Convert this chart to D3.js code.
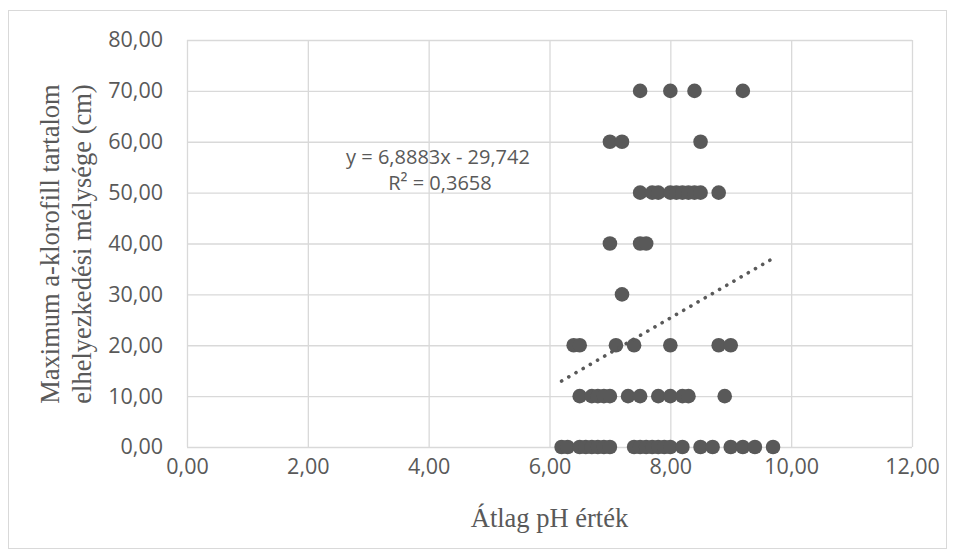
<!DOCTYPE html>
<html>
<head>
<meta charset="utf-8">
<script src="https://cdn.jsdelivr.net/npm/d3@7"></script>
<style>
    body { margin: 0; background: #fff; }
    .tick text { fill: #595959; font-family: "Open Sans", sans-serif; font-size: 21.5px; }
    .grid line { stroke: #d9d9d9; stroke-width: 1.3; }
    .grid .domain { display: none; }
    .title { fill: #595959; font-family: "Liberation Serif", serif; font-size: 26.5px; }
    .eq { fill: #595959; font-family: "Open Sans", sans-serif; font-size: 20px; }
</style>
</head>
<body>
<div id="chart"></div>
<script>
// data: pH (x) and depth in cm (y)
const phValues = [
    6.2, 6.3, 6.5, 6.6, 6.7, 6.8, 6.9, 7.0, 7.4, 7.5, 7.6, 7.7, 7.8, 7.9, 8.0, 8.2, 8.5, 8.7, 9.0, 9.2, 9.4, 9.7,
    6.5, 6.7, 6.8, 6.9, 7.0, 7.3, 7.5, 7.8, 8.0, 8.2, 8.3, 8.9,
    6.4, 6.5, 7.1, 7.4, 8.0, 8.8, 9.0,
    7.2,
    7.0, 7.5, 7.6,
    7.5, 7.7, 7.8, 8.0, 8.1, 8.2, 8.3, 8.4, 8.5, 8.8,
    7.0, 7.2, 8.5,
    7.5, 8.0, 8.4, 9.2
];
const depthValues = [
    0, 0, 0, 0, 0, 0, 0, 0, 0, 0, 0, 0, 0, 0, 0, 0, 0, 0, 0, 0, 0, 0,
    10, 10, 10, 10, 10, 10, 10, 10, 10, 10, 10, 10,
    20, 20, 20, 20, 20, 20, 20,
    30,
    40, 40, 40,
    50, 50, 50, 50, 50, 50, 50, 50, 50, 50,
    60, 60, 60,
    70, 70, 70, 70
];
const xTicks = [0, 2, 4, 6, 8, 10, 12];
const yTicks = [0, 10, 20, 30, 40, 50, 60, 70, 80];
const trendSlope = 6.8883;
const trendIntercept = -29.742;
const equationText = "y = 6,8883x - 29,742";
const r2Text = "R² = 0,3658";
const xTitle = "Átlag pH érték";
const yTitleLines = ["Maximum a-klorofill tartalom", "elhelyezkedési mélysége (cm)"];

const width = 954;
const height = 557;
const plot = { left: 187, right: 912, top: 40, bottom: 447 };

const locale = d3.formatLocale({ decimal: ",", thousands: " ", grouping: [3], currency: ["", ""] });
const fmt = locale.format(".2f");

const svg = d3.select("#chart")
    .append("svg")
    .attr("width", width)
    .attr("height", height);

// outer frame
svg.append("rect")
    .attr("x", 8.5).attr("y", 10.5)
    .attr("width", 938).attr("height", 538)
    .attr("fill", "none")
    .attr("stroke", "#d9d9d9")
    .attr("stroke-width", 1);

const xScale = d3.scaleLinear().domain([0, 12]).range([plot.left, plot.right]);
const yScale = d3.scaleLinear().domain([0, 80]).range([plot.bottom, plot.top]);

// vertical gridlines + x labels
svg.append("g")
    .attr("class", "grid")
    .attr("transform", "translate(0," + plot.bottom + ")")
    .call(d3.axisBottom(xScale).tickValues(xTicks).tickFormat(fmt)
        .tickSize(-(plot.bottom - plot.top)).tickPadding(12))
    .selectAll("text").attr("dy", "0.71em");

// horizontal gridlines + y labels
svg.append("g")
    .attr("class", "grid")
    .attr("transform", "translate(" + plot.left + ",0)")
    .call(d3.axisLeft(yScale).tickValues(yTicks).tickFormat(fmt)
        .tickSize(-(plot.right - plot.left)).tickPadding(24));

// points
svg.append("g")
    .selectAll("circle")
    .data(phValues.map((x, i) => ({ x: x, y: depthValues[i] })))
    .enter().append("circle")
    .attr("cx", d => xScale(d.x))
    .attr("cy", d => yScale(d.y))
    .attr("r", 7.3)
    .attr("fill", "#595959");

// linear trendline, dotted
const xMin = d3.min(phValues);
const xMax = d3.max(phValues);
const line = d3.line()
    .x(d => xScale(d))
    .y(d => yScale(trendSlope * d + trendIntercept));
svg.append("path")
    .datum([xMin, xMax])
    .attr("d", line)
    .attr("fill", "none")
    .attr("stroke", "#595959")
    .attr("stroke-width", 3.6)
    .attr("stroke-linecap", "round")
    .attr("stroke-dasharray", "0.1 8.2");

// equation label
svg.append("text")
    .attr("class", "eq")
    .attr("x", 438).attr("y", 164)
    .attr("text-anchor", "middle")
    .text(equationText);
svg.append("text")
    .attr("class", "eq")
    .attr("x", 440).attr("y", 190)
    .attr("text-anchor", "middle")
    .text(r2Text);

// axis titles
svg.append("text")
    .attr("class", "title")
    .attr("x", (plot.left + plot.right) / 2)
    .attr("y", 527)
    .attr("text-anchor", "middle")
    .text(xTitle);

const yTitle = svg.append("text")
    .attr("class", "title")
    .attr("text-anchor", "middle")
    .attr("transform", "translate(59," + 244 + ") rotate(-90)");
yTitleLines.forEach((t, i) => {
    yTitle.append("tspan")
        .attr("x", 0)
        .attr("dy", i === 0 ? 0 : 32)
        .text(t);
});
</script>
</body>
</html>
